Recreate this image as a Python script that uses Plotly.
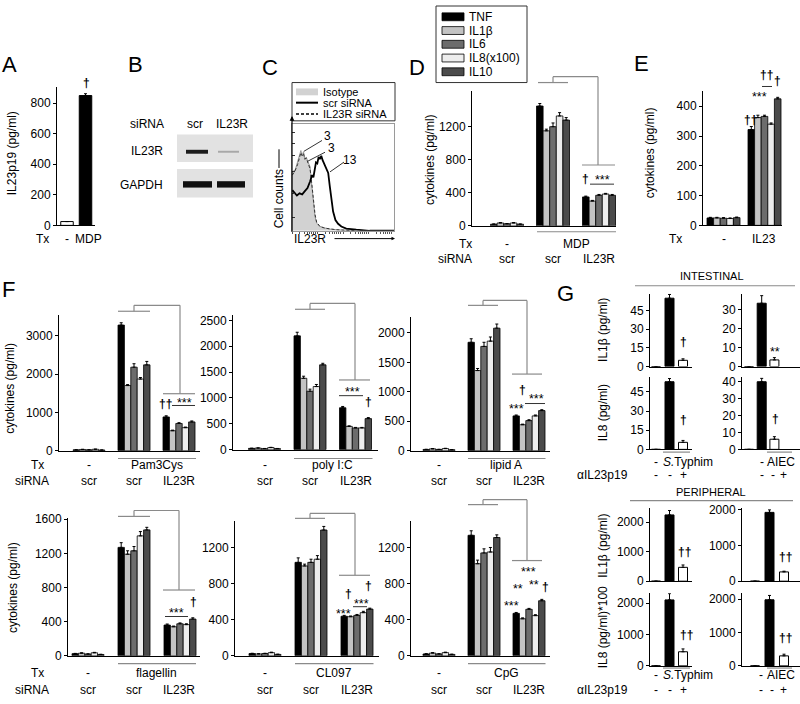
import plotly.graph_objects as go

W, H = 800, 704
FONT = "Arial, 'Liberation Sans', sans-serif"

# ---------------- data ----------------
CYTOKINES = ["TNF", "IL1β", "IL6", "IL8(x100)", "IL10"]
CYTO_COLORS = ["#000000", "#c3c3c3", "#6c6c6c", "#ededed", "#4b4b4b"]

# Panel A
A_TX = ["-", "MDP"]
A_IL23P19 = [25, 850]
A_IL23P19_ERR = [0, 12]

# Panel C (flow histogram, x = IL23R fluorescence in % of axis, y = % of max counts)
C_ISO_X = [0, 0.3, 3.2, 5.5, 7.4, 8.7, 10, 11.3, 12.6, 13.9, 15.8, 17.7, 19.4, 21, 22.6, 24.2, 27.4, 32.3, 37, 43.5, 53, 63, 100]
C_ISO_Y = [0, 55, 57, 64, 71, 75, 70, 74, 66.5, 69, 64, 60, 42, 24, 13, 7, 4, 2.6, 1.6, 1, 0.6, 0, 0]
C_SCR_X = [0.3, 2.3, 4.8, 7.4, 10, 12.6, 15.2, 17.7, 19.7, 21, 22.3, 23.5, 24.8, 26.1, 27.4, 28.7, 30, 31.6, 33.2, 35.5, 37, 38.7, 40.3, 42.6, 45.2, 48.4, 53.2, 63, 76, 100]
C_SCR_Y = [38, 36, 33, 35, 34, 37, 40, 46, 52, 50, 57, 64, 63, 69, 67, 70, 66, 62, 58, 54, 42, 28, 18, 10, 6.5, 4, 2, 1, 0, 0]
C_KD_X = [0.3, 3, 5.5, 7.4, 8.7, 10, 11.3, 12.6, 14, 15.8, 17.7, 19.4, 21, 22.6, 24.2, 27.4, 32, 37, 43, 53, 63]
C_KD_Y = [52, 56, 62, 68, 73, 70, 72, 67, 68, 63, 58, 44, 27, 15, 8, 4, 2.5, 1.5, 1, 0.5, 0]
C_LEGEND = ["Isotype", "scr siRNA", "IL23R siRNA"]
C_MFI = ["3", "3", "13"]

# Panel D (MDP)
D_GROUPS = ["-|scr", "MDP|scr", "MDP|IL23R"]
D_VALUES = [[20, 1450, 350], [35, 1150, 300], [25, 1200, 370], [35, 1330, 385], [20, 1280, 370]]
D_ERRORS = [[3, 30, 10], [5, 20, 8], [3, 45, 10], [5, 40, 8], [3, 30, 10]]

# Panel E (IL23)
E_GROUPS = ["-", "IL23"]
E_VALUES = [[25, 322], [25, 362], [24, 366], [23, 340], [26, 425]]
E_ERRORS = [[2, 10], [2, 8], [2, 4], [2, 4], [2, 5]]

# Panel F
F_GROUPS = ["-|scr", "stim|scr", "stim|IL23R"]
F_SIRNA = ["scr", "scr", "IL23R"]
F_STIMULI = ["Pam3Cys", "poly I:C", "lipid A", "flagellin", "CL097", "CpG"]
PAM3CYS_VALUES = [[20, 3280, 880], [30, 1700, 520], [20, 2180, 710], [35, 1870, 600], [15, 2240, 750]]
PAM3CYS_ERRORS = [[3, 60, 30], [5, 25, 15], [3, 90, 20], [5, 40, 15], [3, 90, 25]]
POLYIC_VALUES = [[25, 2200, 810], [30, 1380, 450], [20, 1130, 420], [40, 1220, 420], [20, 1640, 600]]
POLYIC_ERRORS = [[3, 70, 25], [5, 40, 10], [3, 40, 10], [5, 40, 10], [3, 30, 20]]
LIPIDA_VALUES = [[20, 1840, 590], [30, 1360, 440], [20, 1770, 510], [35, 1860, 590], [15, 2080, 680]]
LIPIDA_ERRORS = [[3, 60, 15], [5, 35, 10], [3, 70, 15], [5, 70, 15], [3, 70, 15]]
FLAGELLIN_VALUES = [[25, 1270, 360], [30, 1190, 340], [20, 1230, 375], [35, 1405, 365], [15, 1475, 430]]
FLAGELLIN_ERRORS = [[3, 55, 12], [5, 40, 8], [3, 50, 10], [5, 50, 10], [3, 30, 15]]
CL097_VALUES = [[25, 1040, 440], [20, 1000, 435], [25, 1040, 450], [35, 1075, 480], [15, 1400, 520]]
CL097_ERRORS = [[3, 50, 10], [3, 20, 8], [3, 35, 10], [5, 40, 15], [3, 40, 10]]
CPG_VALUES = [[20, 1335, 470], [30, 1020, 410], [20, 1140, 515], [35, 1150, 445], [15, 1310, 610]]
CPG_ERRORS = [[3, 50, 10], [5, 40, 10], [3, 45, 10], [5, 50, 10], [3, 30, 15]]

# Panel G
G_CATS = ["-", "bacteria", "bacteria+αIL23p19"]
G_ANTI = ["-", "-", "+"]
G_BACTERIA = ["<i>S.</i>Typhim", "AIEC"]
G_INT_IL1B_STYPH = [0, 55, 5]
G_INT_IL1B_STYPH_ERR = [0, 3, 1.2]
G_INT_IL1B_AIEC = [0, 33.5, 3.5]
G_INT_IL1B_AIEC_ERR = [0, 4, 1.2]
G_INT_IL8_STYPH = [0, 53, 5.5]
G_INT_IL8_STYPH_ERR = [0, 2.5, 1.5]
G_INT_IL8_AIEC = [0, 40, 6]
G_INT_IL8_AIEC_ERR = [0, 2, 1.5]
G_PER_IL1B_STYPH = [0, 2250, 470]
G_PER_IL1B_STYPH_ERR = [0, 150, 80]
G_PER_IL1B_AIEC = [0, 1930, 260]
G_PER_IL1B_AIEC_ERR = [0, 70, 20]
G_PER_IL8_STYPH = [0, 2100, 450]
G_PER_IL8_STYPH_ERR = [0, 200, 90]
G_PER_IL8_AIEC = [0, 1980, 300]
G_PER_IL8_AIEC_ERR = [0, 130, 50]

# ---------------- helpers ----------------
fig = go.Figure()
layout = dict(width=W, height=H, margin=dict(l=0, r=0, t=0, b=0), paper_bgcolor="white",
              plot_bgcolor="rgba(0,0,0,0)", showlegend=False, barmode="overlay",
              font=dict(family=FONT, size=12, color="black"))
shapes = []
annotations = []
n_axes = [0]


def px(x):
    return x / W


def py(y):
    return 1 - y / H


def text(x, y, t, size=12, anchor="center", angle=0, color="black", family=FONT):
    annotations.append(dict(x=px(x), y=py(y), xref="paper", yref="paper", text=t, showarrow=False,
                            font=dict(size=size, family=family, color=color), xanchor=anchor,
                            yanchor="middle", textangle=angle, borderpad=0))


def line(x0, y0, x1, y1, color="#8a8a8a", width=1.2, dash=None):
    shapes.append(dict(type="line", xref="paper", yref="paper", x0=px(x0), x1=px(x1), y0=py(y0), y1=py(y1),
                       line=dict(color=color, width=width, dash=dash)))


def rect(x0, y0, x1, y1, fill, lc=None, lw=0):
    shapes.append(dict(type="rect", xref="paper", yref="paper", x0=px(x0), x1=px(x1), y0=py(y1), y1=py(y0),
                       fillcolor=fill, line=dict(color=lc or fill, width=lw)))


def bracket(a0, a1, ya, yup, xr, ydown, b0, b1):
    mid = (a0 + a1) / 2
    line(a0, ya, a1, ya)
    line(mid, ya, mid, yup)
    line(mid, yup, xr, yup)
    line(xr, yup, xr, ydown)
    line(b0, ydown, b1, ydown)


def axes(x0, x1, ytop, ybot, ymax, tickvals, centers, categories):
    n_axes[0] += 1
    n = n_axes[0]
    s = "" if n == 1 else str(n)
    c0 = centers[0]
    step = centers[1] - centers[0]
    layout["xaxis" + s] = dict(domain=[px(x0), px(x1)], anchor="y" + s, type="category",
                               categoryorder="array", categoryarray=categories,
                               range=[(x0 - c0) / step, (x1 - c0) / step], showline=True,
                               linecolor="black", linewidth=1, ticks="", showticklabels=False,
                               showgrid=False, zeroline=False, fixedrange=True)
    layout["yaxis" + s] = dict(domain=[py(ybot), py(ytop)], anchor="x" + s, range=[0, ymax],
                               showline=True, linecolor="black", linewidth=1, ticks="outside",
                               ticklen=3, tickcolor="black", tickvals=tickvals,
                               tickfont=dict(size=12, family=FONT), showgrid=False, zeroline=False,
                               fixedrange=True)
    return "x" + s, "y" + s, step


def err(arr):
    return dict(type="data", array=arr, arrayminus=[0] * len(arr), symmetric=False,
                color="black", thickness=1, width=1.5)


def cyto_bars(xr, yr, cats, values, errors, gw):
    bw = gw / 5
    for i, (name, color) in enumerate(zip(CYTOKINES, CYTO_COLORS)):
        fig.add_trace(go.Bar(x=cats, y=values[i], xaxis=xr, yaxis=yr, name=name, width=bw,
                             offset=-gw / 2 + i * bw,
                             marker=dict(color=color, line=dict(color="black", width=0.8)),
                             error_y=err(errors[i])))


def simple_bars(xr, yr, cats, values, errors, colors, bw):
    fig.add_trace(go.Bar(x=cats, y=values, xaxis=xr, yaxis=yr, width=bw,
                         marker=dict(color=colors, line=dict(color="black", width=1)),
                         error_y=err(errors)))


def sig(x, y, t):
    if "*" in t:
        text(x, y, t, size=12.5)
    else:
        text(x, y, "<b>" + t + "</b>", size=12)


# ---------------- Panel letters ----------------
for lt, lx, ly in [("A", 9, 60), ("B", 135, 60), ("C", 270, 63), ("D", 417, 63), ("E", 641, 59),
                   ("F", 8, 289), ("G", 565, 293)]:
    text(lx, ly, lt, size=22)

# ---------------- Panel A ----------------
xa, ya, st = axes(57, 95, 83, 223.5, 903, [0, 200, 400, 600, 800], [67, 85.5], A_TX)
simple_bars(xa, ya, A_TX, A_IL23P19, A_IL23P19_ERR, ["white", "black"], 12.5 / st)
text(12, 150, "IL23p19 (pg/ml)", angle=-90)
text(50, 237, "Tx", anchor="right")
text(67, 237, A_TX[0])
text(88, 237, A_TX[1])
sig(86, 78, "†")

# ---------------- Panel B (western blot) ----------------
text(165, 120, "siRNA", anchor="right")
text(195, 120, "scr")
text(232, 120, "IL23R")
text(164, 148, "IL23R", anchor="right")
text(164, 182, "GAPDH", anchor="right")
rect(177, 131, 253, 159, "#e2e2e2")
rect(177, 166, 253, 195, "#e2e2e2")
rect(186, 146.5, 208, 150.5, "#1c1c1c")
rect(218, 147.5, 239, 149.5, "#a8a8a8")
rect(183, 178.5, 212, 185, "#101010")
rect(217, 178.5, 245, 185, "#101010")

# ---------------- Panel C (histogram) ----------------
n_axes[0] += 1
cs = str(n_axes[0])
layout["xaxis" + cs] = dict(domain=[px(292), px(394)], anchor="y" + cs, range=[0, 100], showline=True,
                            mirror=True, linecolor="#9a9a9a", linewidth=1, ticks="outside", ticklen=2,
                            tickcolor="#555",
                            tickvals=[0, 7.5, 12, 15, 17, 19, 21, 23, 25, 32.5, 37, 40, 42, 44, 46, 48, 50,
                                      57.5, 62, 65, 67, 69, 71, 73, 75, 82.5, 87, 90, 92, 94, 96, 98],
                            showticklabels=False, showgrid=False, zeroline=False, fixedrange=True)
layout["yaxis" + cs] = dict(domain=[py(229), py(120)], anchor="x" + cs, range=[0, 100], showline=True,
                            mirror=True, linecolor="#9a9a9a", linewidth=1, ticks="inside", ticklen=3,
                            tickcolor="#333", tickvals=[12, 35, 55, 70, 82, 92], showticklabels=False,
                            showgrid=False, zeroline=False, fixedrange=True)
fig.add_trace(go.Scatter(x=C_ISO_X, y=C_ISO_Y, xaxis="x" + cs, yaxis="y" + cs, mode="lines",
                         fill="tozeroy", fillcolor="#d2d2d2", line=dict(color="#9a9a9a", width=1),
                         name=C_LEGEND[0]))
fig.add_trace(go.Scatter(x=C_KD_X, y=C_KD_Y, xaxis="x" + cs, yaxis="y" + cs, mode="lines",
                         line=dict(color="#333", width=1, dash="3px,2px"), name=C_LEGEND[2]))
fig.add_trace(go.Scatter(x=C_SCR_X, y=C_SCR_Y, xaxis="x" + cs, yaxis="y" + cs, mode="lines",
                         line=dict(color="black", width=1.8), name=C_LEGEND[1]))
# left arrow axis
annotations.append(dict(x=px(292), y=py(112), xref="paper", yref="paper", ax=0, ay=117, text="",
                        showarrow=True, arrowhead=2, arrowsize=0.8, arrowwidth=1.2, arrowcolor="black"))
annotations.append(dict(x=px(395), y=py(237), xref="paper", yref="paper", ax=-62, ay=0, text="",
                        showarrow=True, arrowhead=2, arrowsize=0.7, arrowwidth=1, arrowcolor="black"))
text(293, 237, "IL23R", anchor="left")
text(279, 197, "Cell counts", angle=-90)
line(279, 165, 279, 146, color="black", width=1)
# legend
rect(292, 78, 395, 117, "white", lc="#333", lw=1)
rect(296, 84, 318, 91, "#d2d2d2")
line(296, 98.5, 318, 98.5, color="black", width=2)
line(296, 110, 318, 110, color="black", width=1.5, dash="3px,2px")
text(322, 87.5, C_LEGEND[0], anchor="left", size=11)
text(322, 98.5, C_LEGEND[1], anchor="left", size=11)
text(322, 110, C_LEGEND[2], anchor="left", size=11)
# MFI labels
text(327, 132, C_MFI[0])
text(331, 145, C_MFI[1])
text(350, 157, C_MFI[2])
line(322, 137, 304, 148, color="black", width=0.8)
line(325, 149, 308, 158, color="black", width=0.8)
line(344, 159, 330, 169, color="black", width=0.8)

# ---------------- Panel D ----------------
xd, yd, st = axes(472, 616, 87, 224, 1627, [0, 400, 800, 1200], [507, 553, 599], D_GROUPS)
cyto_bars(xd, yd, D_GROUPS, D_VALUES, D_ERRORS, 33 / st)
text(430, 157, "cytokines (pg/ml)", angle=-90)
text(473, 242, "Tx", anchor="right")
text(473, 258, "siRNA", anchor="right")
text(507, 242, "-")
text(507, 258, "scr")
text(576, 242, "MDP")
text(553, 258, "scr")
text(599, 258, "IL23R")
line(537, 230, 616, 230)
bracket(538, 568, 78, 72, 598, 162, 582, 615)
sig(585, 176, "†")
sig(602, 177, "***")
line(590, 181.5, 614, 181.5, color="#333", width=1)
# legend
rect(436, 0, 527, 78, "white", lc="#333", lw=1)
for i, (name, color) in enumerate(zip(CYTOKINES, CYTO_COLORS)):
    yy = 11 + i * 14
    rect(442, yy - 4, 464, yy + 4, color, lc="black", lw=0.8)
    text(468, yy, name, anchor="left")

# ---------------- Panel E ----------------
xe, ye, st = axes(703, 782, 87, 223.5, 450, [0, 100, 200, 300, 400], [723.5, 764.5], E_GROUPS)
cyto_bars(xe, ye, E_GROUPS, E_VALUES, E_ERRORS, 33 / st)
text(650, 150, "cytokines (pg/ml)", angle=-90)
text(683, 237, "Tx", anchor="right")
text(723.5, 237, E_GROUPS[0])
text(764, 237, E_GROUPS[1])
sig(750, 116, "††")
sig(759, 93, "***")
sig(766, 70, "††")
sig(777, 76, "†")
line(762, 82, 772, 82, color="#333", width=1)

# ---------------- Panel F ----------------
F_PANELS = [
    (PAM3CYS_VALUES, PAM3CYS_ERRORS, 59, 200, 315, 453, 3538, [0, 1000, 2000, 3000], [89, 134, 179]),
    (POLYIC_VALUES, POLYIC_ERRORS, 233, 378, 315, 452, 2600, [0, 500, 1000, 1500, 2000, 2500], [264.5, 310, 355.5]),
    (LIPIDA_VALUES, LIPIDA_ERRORS, 411, 550, 316.7, 453, 2272, [0, 500, 1000, 1500, 2000], [439, 484, 528.5]),
    (FLAGELLIN_VALUES, FLAGELLIN_ERRORS, 68, 200, 522, 662, 1610, [0, 400, 800, 1200, 1600], [88, 134, 179]),
    (CL097_VALUES, CL097_ERRORS, 235, 379, 525, 662, 1497, [0, 400, 800, 1200], [265, 311, 356.5]),
    (CPG_VALUES, CPG_ERRORS, 411, 550, 525, 662, 1490, [0, 400, 800, 1200], [439, 484, 528.5]),
]
for k, (vals, errs, x0, x1, yt, yb, ymax, tv, cen) in enumerate(F_PANELS):
    xf, yf, st = axes(x0, x1, yt, yb, ymax, tv, cen, F_GROUPS)
    cyto_bars(xf, yf, F_GROUPS, vals, errs, 32 / st)
    ty = 468 if k < 3 else 680
    sy = 484 if k < 3 else 697
    uy = 461 if k < 3 else 670
    text(cen[0], ty, "-")
    text((cen[1] + cen[2]) / 2, ty, F_STIMULI[k])
    for c, lab in zip(cen, F_SIRNA):
        text(c, sy, lab)
    line(cen[1] - 16, uy, x1 - 4 if k % 3 == 0 else cen[2] + 17, uy)

text(45, 468, "Tx", anchor="right")
text(50, 484, "siRNA", anchor="right")
text(45, 680, "Tx", anchor="right")
text(50, 697, "siRNA", anchor="right")
text(10, 390, "cytokines (pg/ml)", angle=-90)
text(13, 593, "cytokines (pg/ml)", angle=-90)

# brackets & significance
bracket(118, 150, 311, 305, 180, 395, 163, 195)
sig(165, 405, "††")
sig(184, 404, "***")
line(172, 407, 195, 407, color="#333", width=1)

bracket(295, 325, 309, 303, 355, 381, 339, 370)
sig(352, 393, "***")
line(339, 397, 363, 397, color="#333", width=1)
sig(368, 403, "†")

bracket(468, 498, 305, 300, 527, 375, 512, 542)
sig(516, 411, "***")
sig(522, 391, "†")
sig(536, 400, "***")
line(525, 405, 545, 405, color="#333", width=1)

bracket(118, 150, 520, 514, 179, 595, 163, 195)
sig(176, 618, "***")
line(165, 622, 188, 622, color="#333", width=1)
sig(193, 607, "†")

bracket(295, 325, 522, 517, 355, 580, 339, 370)
sig(343, 619, "***")
sig(348, 599, "†")
sig(361, 609, "***")
line(353, 612, 367, 612, color="#333", width=1)
sig(368, 591, "†")

bracket(468, 498, 508, 503, 527, 565, 512, 542)
sig(528, 577, "***")
sig(518, 594, "**")
sig(534, 590, "**")
sig(545, 592, "†")
sig(511.5, 611, "***")

# ---------------- Panel G ----------------
text(712, 275, "INTESTINAL", size=11)
line(635, 285, 795, 285)
text(711, 495, "PERIPHERAL", size=11)
line(630, 504, 793, 504)

LEFT = (650, 692, [656, 669.5, 683])
RIGHT_INT = (742, 800, [749, 761.7, 774.4])
RIGHT_PER = (742, 800, [755, 769.5, 784])
G_PANELS = [
    (LEFT, 293, 367.3, 58.7, [0, 15, 30, 45], G_INT_IL1B_STYPH, G_INT_IL1B_STYPH_ERR),
    (RIGHT_INT, 293, 367.3, 38.6, [0, 10, 20, 30], G_INT_IL1B_AIEC, G_INT_IL1B_AIEC_ERR),
    (LEFT, 378, 451.7, 56.7, [0, 15, 30, 45], G_INT_IL8_STYPH, G_INT_IL8_STYPH_ERR),
    (RIGHT_INT, 378, 451.7, 42.8, [0, 10, 20, 30, 40], G_INT_IL8_AIEC, G_INT_IL8_AIEC_ERR),
    (LEFT, 511.7, 586, 2477, [0, 1000, 2000], G_PER_IL1B_STYPH, G_PER_IL1B_STYPH_ERR),
    (RIGHT_PER, 511.7, 586, 2046, [0, 1000, 2000], G_PER_IL1B_AIEC, G_PER_IL1B_AIEC_ERR),
    (LEFT, 598.3, 672.3, 2312, [0, 1000, 2000], G_PER_IL8_STYPH, G_PER_IL8_STYPH_ERR),
    (RIGHT_PER, 598.3, 672.3, 2176, [0, 1000, 2000], G_PER_IL8_AIEC, G_PER_IL8_AIEC_ERR),
]
for (x0, x1, cen), yt, yb, ymax, tv, vals, errs in G_PANELS:
    xg, yg, st = axes(x0, x1, yt, yb, ymax, tv, cen, G_CATS)
    simple_bars(xg, yg, G_CATS, vals, errs, ["white", "black", "white"], 9 / st)

text(603, 330, "IL1β (pg/ml)", angle=-90)
text(603, 415, "IL8 (pg/ml)", angle=-90)
text(603, 550, "IL1β (pg/ml)", angle=-90)
text(603, 633, "IL8 (pg/ml)*100", angle=-90)

sig(683, 342, "†")
sig(775, 352, "**")
sig(683, 422, "†")
sig(775, 421, "†")
sig(684, 556, "††")
sig(785, 561, "††")
sig(686.5, 641, "††")
sig(785, 644, "††")

for ly, ay, uy, rl in [(465, 478, 454.5, [762, 772.5, 783]), (682, 697, 674.5, [760.7, 771.7, 783.3])]:
    text(656, ly, "-")
    text(662, ly, G_BACTERIA[0], anchor="left")
    line(663, uy, 690, uy)
    text(rl[0], ly, "-")
    text(781, ly, G_BACTERIA[1])
    line(767, uy, 792, uy)
    text(602, ay, "αIL23p19")
    for c, s in zip(LEFT[2], G_ANTI):
        text(c, ay, s)
    for c, s in zip(rl, G_ANTI):
        text(c, ay, s)

layout["shapes"] = shapes
layout["annotations"] = annotations
fig.update_layout(**layout)
fig.write_html("out.html", config={"displayModeBar": False},
               post_script="document.body.style.margin='0px';document.body.style.overflow='hidden';")
